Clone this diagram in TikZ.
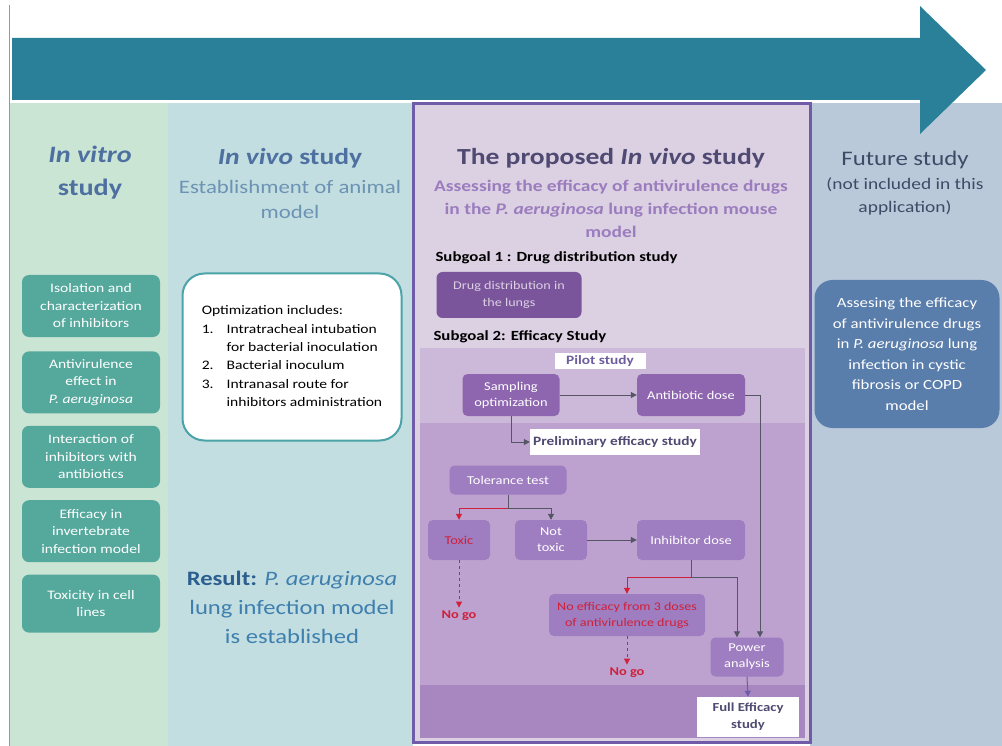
\documentclass[tikz,border=0pt]{standalone}
\usepackage{fontspec}
\setmainfont{Carlito}[FakeStretch=1.2]
\usepackage{xcolor}
\usetikzlibrary{arrows.meta, positioning, calc}
\definecolor{arrowTeal}{HTML}{2B8099}
\definecolor{cEdge}{HTML}{8A9AB0}
\definecolor{cVitro}{HTML}{CBE5D5}
\definecolor{cVivo}{HTML}{C3DEE1}
\definecolor{cProp}{HTML}{DCD0E3}
\definecolor{cPropEdge}{HTML}{6F5BA8}
\definecolor{cFuture}{HTML}{B9C9DA}
\definecolor{cTitle}{HTML}{4E70A0}
\definecolor{cSub}{HTML}{6C93B3}
\definecolor{cTeal}{HTML}{55A89C}
\definecolor{cOptEdge}{HTML}{4AA3A8}
\definecolor{cResult}{HTML}{3E7FAE}
\definecolor{cResultB}{HTML}{2C5F8F}
\definecolor{cPropTitle}{HTML}{4F4A72}
\definecolor{cPropSub}{HTML}{9B7DBE}
\definecolor{cDrug}{HTML}{7A559B}
\definecolor{cBandA}{HTML}{CCB8D9}
\definecolor{cBandB}{HTML}{BDA2CF}
\definecolor{cBandC}{HTML}{A887C1}
\definecolor{cFlow}{HTML}{8E66B0}
\definecolor{cFlowLow}{HTML}{9E7DC0}
\definecolor{cLabel}{HTML}{6F5E9E}
\definecolor{cLine}{HTML}{555566}
\definecolor{cStop}{HTML}{D0203A}
\definecolor{cFutureTitle}{HTML}{3F4A66}
\definecolor{cFutureBox}{HTML}{5A7EAB}
\tikzset{
    phasebox/.style={
        rectangle, rounded corners=7pt, fill=cTeal, text=white, align=center,
        minimum width=138pt, minimum height=62pt, inner sep=2pt,
        font=\fontsize{13}{17.5}\selectfont
    },
    flowbox/.style={
        rectangle, rounded corners=5pt, fill=cFlow, text=white, align=center,
        inner sep=2pt, font=\fontsize{12}{16}\selectfont
    },
    labelbox/.style={
        rectangle, fill=white, text=cLabel, align=center, inner sep=3pt,
        font=\bfseries\fontsize{12.8}{17}\selectfont
    },
    arrow/.style={
        -{Triangle[length=6pt, width=6pt]}, draw=cLine, line width=1pt
    },
    stoparrow/.style={
        -{Triangle[length=6pt, width=6pt]}, draw=cStop, line width=1pt
    },
    nogoarrow/.style={
        stoparrow, dashed
    },
    nogo/.style={
        text=cStop, font=\bfseries\fontsize{12}{16}\selectfont
    }
}
\begin{document}
\begin{tikzpicture}[x=1pt, y=-1pt]
      \useasboundingbox (0,0) rectangle (1002,746);
      \fill[white] (0,0) rectangle (1002,746);

      % columns
      \fill[cVitro] (10,103) rectangle (168,746);
      \fill[cVivo] (168,103) rectangle (413,746);
      \fill[cFuture] (810,103) rectangle (1002,746);
      \fill[cProp] (413,103) rectangle (810,742);
      \fill[cBandA] (420,348) rectangle (805,423);
      \fill[cBandB] (420,423) rectangle (805,685);
      \fill[cBandC] (420,685) rectangle (805,738);
      \draw[cPropEdge, line width=3pt] (413,104) rectangle (810,742);
      \draw[cEdge, line width=1pt] (9,5) -- (9,746);

      % timeline arrow
      \fill[arrowTeal] (12,38) -- (920,38) -- (920,6) -- (986,70) -- (920,134) -- (920,100) -- (12,100) -- cycle;

      % in vitro
      \node[font=\bfseries\fontsize{23.5}{33}\selectfont, text=cTitle, align=center] (vitroTitle) at (90,173) {\textit{In vitro}\\study};
      \node[phasebox] (isolation) at (91,306) {Isolation and\\characterization\\of inhibitors};
      \node[phasebox, below=14pt of isolation] (antivir) {Antivirulence\\effect in\\\textit{P. aeruginosa}};
      \node[phasebox, below=12pt of antivir] (interaction) {Interaction of\\inhibitors with\\antibiotics};
      \node[phasebox, below=12pt of interaction] (invert) {Efficacy in\\invertebrate\\infection model};
      \node[phasebox, below=12pt of invert, minimum height=58pt] (toxcell) {Toxicity in cell\\lines};

      % in vivo
      \node[font=\bfseries\fontsize{23}{28}\selectfont, text=cTitle] (vivoTitle) at (290,158) {\textit{In vivo} study};
      \node[font=\fontsize{19}{25}\selectfont, text=cSub, align=center, below=5pt of vivoTitle] (vivoSub) {Establishment of animal\\model};
      \node[rectangle, rounded corners=22pt, draw=cOptEdge, line width=2pt, fill=white,
            minimum width=219pt, minimum height=167pt, inner sep=0pt,
            font=\fontsize{13}{18.4}\selectfont] (optim) at (292,357) {%
        \begin{tabular}{@{}l@{\hspace{13pt}}l@{}}
        \multicolumn{2}{@{}l@{}}{Optimization includes:}\\
        1. & Intratracheal intubation\\
           & for bacterial inoculation\\
        2. & Bacterial inoculum\\
        3. & Intranasal route for\\
           & inhibitors administration
        \end{tabular}};
      \node[font=\fontsize{20.5}{29}\selectfont, text=cResult, align=center] (result) at (292,607)
        {\textcolor{cResultB}{\bfseries Result:} \textit{P. aeruginosa}\\lung infection model\\is established};

      % proposed study
      \node[font=\bfseries\fontsize{23}{28}\selectfont, text=cPropTitle] (propTitle) at (611,158) {The proposed \textit{In vivo} study};
      \node[font=\bfseries\fontsize{16.2}{23}\selectfont, text=cPropSub, align=center] (propSub) at (611,209)
        {Assessing the efficacy of antivirulence drugs\\in the \textit{P. aeruginosa} lung infection mouse\\model};
      \node[anchor=west, font=\bfseries\fontsize{14}{16}\selectfont] (goalA) at (432,258) {Subgoal 1 : Drug distribution study};
      \node[rectangle, rounded corners=6pt, fill=cDrug, text=cProp, align=center, minimum width=145pt, minimum height=46pt,
            font=\fontsize{11.8}{17}\selectfont] (drugdist) at (509,295) {Drug distribution in\\the lungs};
      \node[anchor=west, font=\bfseries\fontsize{14}{16}\selectfont] (goalB) at (430,337) {Subgoal 2: Efficacy Study};

      \node[labelbox, minimum width=91pt] (pilot) at (600,361) {Pilot study};
      \node[flowbox, minimum width=97pt, minimum height=42pt] (sampling) at (511,395) {Sampling\\optimization};
      \node[flowbox, minimum width=108pt, minimum height=42pt] (antibiotic) at (691,395) {Antibiotic dose};
      \node[labelbox, minimum width=170pt, minimum height=26pt, text=cPropTitle] (prelim) at (615,442) {Preliminary efficacy study};
      \node[flowbox, fill=cFlowLow, minimum width=117pt, minimum height=29pt] (tolerance) at (508,480) {Tolerance test};
      \node[flowbox, fill=cFlowLow, minimum width=62pt, minimum height=40pt, text=cStop] (toxic) at (459,540) {Toxic};
      \node[flowbox, fill=cFlowLow, minimum width=72pt, minimum height=40pt] (nottoxic) at (551,540) {Not\\toxic};
      \node[flowbox, fill=cFlowLow, minimum width=108pt, minimum height=40pt] (inhibitor) at (691,540) {Inhibitor dose};
      \node[nogo] (nogoA) at (459,616) {No go};
      \node[flowbox, fill=cFlowLow, minimum width=156pt, minimum height=42pt, text=cStop, font=\fontsize{11.7}{16}\selectfont] (noeffect) at (627,615)
        {No efficacy from 3 doses\\of antivirulence drugs};
      \node[nogo] (nogoB) at (627,673) {No go};
      \node[flowbox, fill=cFlowLow, minimum width=73pt, minimum height=39pt] (power) at (747,657) {Power\\analysis};
      \node[labelbox, minimum width=102pt, minimum height=40pt, text=cPropTitle, font=\bfseries\fontsize{12.3}{17}\selectfont] (fullstudy) at (748,717) {Full Efficacy\\study};

      \coordinate (tolSplit) at ([yshift=-14pt]tolerance.south);
      \coordinate (inhSplit) at ([yshift=-17pt]inhibitor.south);

      \draw[arrow] (sampling) -- (antibiotic);
      \draw[arrow] (antibiotic.east) -| ([xshift=13pt]power.north);
      \draw[arrow] (sampling.south) |- (prelim.west);
      \draw[arrow] (tolerance.south) -- (tolSplit) -| (nottoxic.north);
      \draw[stoparrow] (tolSplit) -| (toxic.north);
      \draw[arrow] (nottoxic) -- (inhibitor);
      \draw[nogoarrow] (toxic.south) -- (nogoA.north);
      \draw[draw=cLine, line width=1pt] (inhibitor.south) -- (inhSplit);
      \draw[stoparrow] (inhSplit) -| (noeffect.north);
      \draw[arrow] (inhSplit) -| ([xshift=-10pt]power.north);
      \draw[nogoarrow] (noeffect.south) -- (nogoB.north);
      \draw[arrow, draw=cPropEdge] (power.south) -- (fullstudy.north);

      % future study
      \node[font=\fontsize{20.7}{26}\selectfont, text=cFutureTitle] (futTitle) at (905,160) {Future study};
      \node[font=\fontsize{16.2}{23}\selectfont, text=cFutureTitle, align=center, below=2pt of futTitle] (futSub) {(not included in this\\application)};
      \node[rectangle, rounded corners=18pt, fill=cFutureBox, text=white, align=center,
            minimum width=185pt, minimum height=148pt, font=\fontsize{14}{20.5}\selectfont] (futBox) at (907,354)
        {Assesing the efficacy\\of antivirulence drugs\\in \textit{P. aeruginosa} lung\\infection in cystic\\fibrosis or COPD\\model};
    \end{tikzpicture}
\end{document}
